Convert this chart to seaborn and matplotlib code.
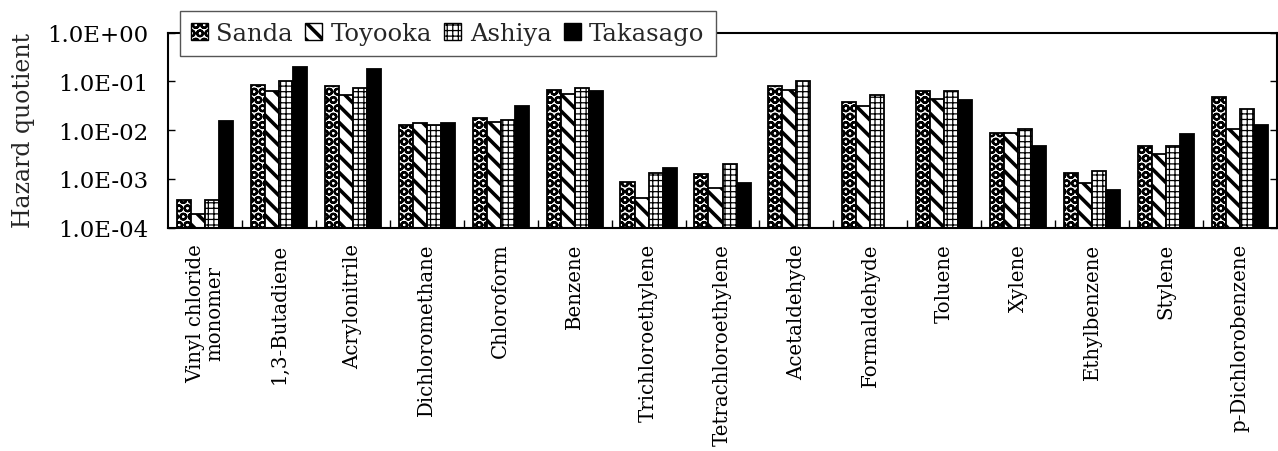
import numpy as np
import pandas as pd
import seaborn as sns
import matplotlib.pyplot as plt
from matplotlib.patches import Patch
from matplotlib.ticker import FixedLocator, FixedFormatter, NullLocator

# Hazard quotients of hazardous air pollutants at four monitoring sites
compounds = [
    "Vinyl chloride\nmonomer", "1,3-Butadiene", "Acrylonitrile", "Dichloromethane",
    "Chloroform", "Benzene", "Trichloroethylene", "Tetrachloroethylene",
    "Acetaldehyde", "Formaldehyde", "Toluene", "Xylene", "Ethylbenzene",
    "Stylene", "p-Dichlorobenzene",
]
sanda = [3.7e-4, 0.085, 0.079, 0.0125, 0.0176, 0.067, 8.5e-4, 1.23e-3,
         0.079, 0.037, 0.062, 0.0088, 1.3e-3, 0.0046, 0.048]
toyooka = [1.9e-4, 0.062, 0.052, 0.0136, 0.0148, 0.056, 4.0e-4, 6.6e-4,
           0.066, 0.031, 0.043, 0.0088, 8.0e-4, 0.0032, 0.0105]
ashiya = [3.7e-4, 0.103, 0.073, 0.0125, 0.016, 0.073, 1.3e-3, 2.0e-3,
          0.100, 0.052, 0.062, 0.0105, 1.45e-3, 0.0046, 0.027]
takasago = [0.015, 0.20, 0.18, 0.0136, 0.0316, 0.062, 1.7e-3, 8.0e-4,
            np.nan, np.nan, 0.041, 0.0046, 5.8e-4, 0.0083, 0.0125]
sites = ["Sanda", "Toyooka", "Ashiya", "Takasago"]
ytick_values = [1e-4, 1e-3, 1e-2, 1e-1, 1e0]
ytick_labels = ["1.0E-04", "1.0E-03", "1.0E-02", "1.0E-01", "1.0E+00"]
ylabel = "Hazard quotient"

sns.set_theme(style="white")
plt.rcParams["font.family"] = ["DejaVu Serif"]
plt.rcParams["hatch.color"] = "black"

df = pd.DataFrame({"compound": compounds, "Sanda": sanda, "Toyooka": toyooka,
                   "Ashiya": ashiya, "Takasago": takasago})
long = df.melt(id_vars="compound", var_name="site", value_name="hq").dropna()

fills = ["white", "white", "white", "black"]
hatches = ["OO", "\\\\", "+++", ""]
hatch_widths = [1.6, 2.6, 0.9, 1.0]


def style_patch(p, hatch, hw):
    """Give one patch its hatch and a hatch line width of its own."""
    p.set_hatch(hatch)
    if hasattr(p, "set_hatch_linewidth"):
        p.set_hatch_linewidth(hw)
    orig_draw = p.draw

    def draw(renderer, _orig=orig_draw, _hw=hw):
        with plt.rc_context({"hatch.linewidth": _hw}):
            _orig(renderer)

    p.draw = draw


fig = plt.figure(figsize=(12.78, 4.52), dpi=100)
ax = fig.add_axes([168 / 1278, 1 - 228.5 / 452, 1109 / 1278, 195 / 452])
ax.set_yscale("log")
sns.barplot(data=long, x="compound", y="hq", hue="site", order=compounds,
            hue_order=sites, palette=fills, saturation=1, edgecolor="black",
            linewidth=1.3, width=0.76, errorbar=None, legend=False, ax=ax)

for container, h, hw in zip(ax.containers, hatches, hatch_widths):
    for bar in container:
        style_patch(bar, h, hw)

ax.set_ylim(1e-4, 1.0)
ax.set_xlim(-0.5, len(compounds) - 0.5)

ax.yaxis.set_major_locator(FixedLocator(ytick_values))
ax.yaxis.set_major_formatter(FixedFormatter(ytick_labels))
ax.yaxis.set_minor_locator(NullLocator())
ax.tick_params(axis="y", which="major", direction="in", length=5, width=1,
               left=True, right=True, labelsize=16.5, pad=14, colors="black")

ax.set_xticks(range(len(compounds)))
ax.set_xticklabels(compounds, rotation=90, fontsize=14.2, linespacing=1.0)
ax.set_xticks(np.arange(0.5, len(compounds) - 0.5, 1.0), minor=True)
ax.tick_params(axis="x", which="major", length=0, pad=11, colors="black")
ax.tick_params(axis="x", which="minor", direction="in", length=6, width=1,
               bottom=True, color="black")

ax.set_xlabel("")
ax.set_ylabel("")
fig.text(24 / 1278, 1 - 130 / 452, ylabel, rotation=90, ha="center",
         va="center", fontsize=17)

for s in ax.spines.values():
    s.set_color("black")
    s.set_linewidth(1.5)
    s.set_visible(True)

handles = [Patch(facecolor=f, edgecolor="black", linewidth=1.0, hatch=h)
           for f, h in zip(fills, hatches)]
leg = fig.legend(handles, sites, loc="upper left",
                 bbox_to_anchor=(180 / 1278, 1 - 12 / 452), ncol=4,
                 frameon=True, fancybox=False, edgecolor="#555555",
                 framealpha=1, fontsize=17.5, handlelength=0.7,
                 handleheight=0.7, handletextpad=0.35, columnspacing=0.5,
                 borderpad=0.45, borderaxespad=0)
leg.get_frame().set_linewidth(1.0)
for p, h, hw in zip(leg.get_patches(), hatches, hatch_widths):
    style_patch(p, h, hw)

fig.savefig("out.png", dpi=100)
